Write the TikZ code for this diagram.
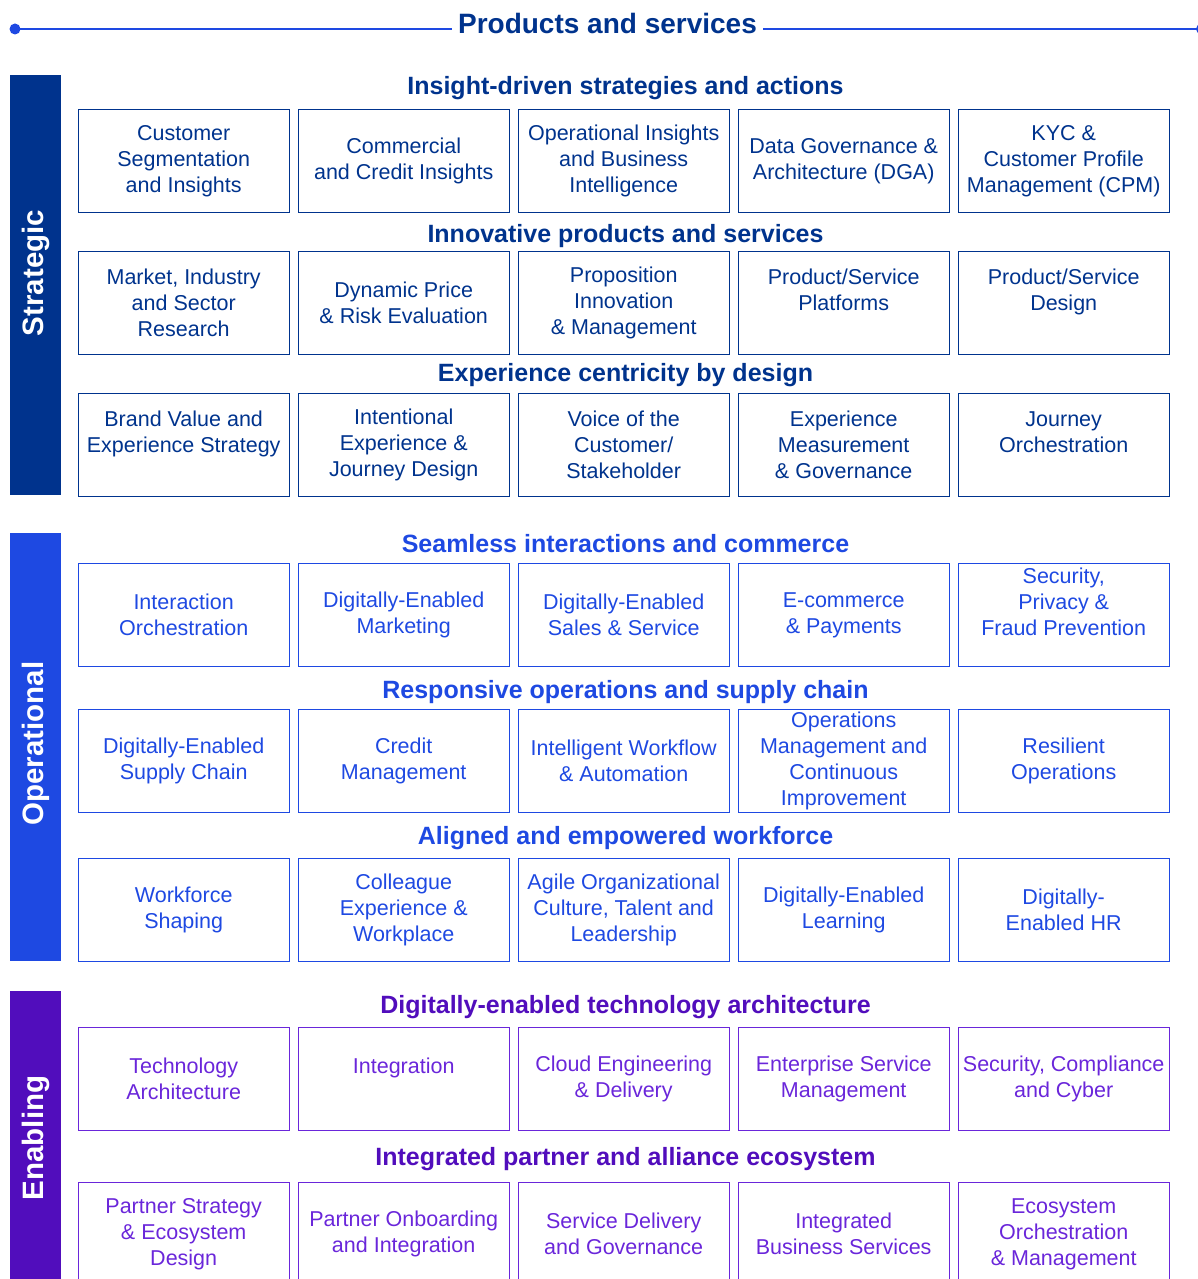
\documentclass[tikz,border=0pt]{standalone}
\usepackage{fontspec}
\setmainfont{Liberation Sans}
\usepackage{xcolor}
\usepackage{tikz}
\usetikzlibrary{positioning}

\definecolor{kdark}{HTML}{00338D}
\definecolor{kblue}{HTML}{1E49E2}
\definecolor{kpurple}{HTML}{510DBC}
\definecolor{kviolet}{HTML}{6A26DA}

\begin{document}
\begin{tikzpicture}[x=1pt, y=-1pt, font=\fontsize{21.5}{26}\selectfont]
		\tikzstyle{box} = [rectangle, line width=1.4pt, minimum width=211pt, minimum height=102.5pt, align=center, inner sep=0pt]
		\tikzstyle{strat} = [box, draw=kdark, text=kdark]
		\tikzstyle{oper} = [box, draw=kblue, text=kblue]
		\tikzstyle{enab} = [box, draw=kviolet, text=kviolet]
		\tikzstyle{head} = [anchor=base, font=\fontsize{25}{30}\selectfont\bfseries]
		\tikzstyle{side} = [anchor=base, rotate=90, text=white, font=\fontsize{29.5}{32}\selectfont\bfseries]
		
		\useasboundingbox (0, 0) rectangle (1197, 1279);
		
		% title with its rule
		\node[anchor=base, text=kdark, inner xsep=6pt, font=\fontsize{28}{32}\selectfont\bfseries] at (607.5, 34) (title) {Products and services};
		\coordinate (dl) at (15, 29);
		\coordinate (dr) at (1201, 29);
		\fill[kblue] (dl) circle (5.5pt);
		\fill[kblue] (dr) circle (5pt);
		\draw[kblue, line width=1.5pt] (dl) -- (title.west |- dl);
		\draw[kblue, line width=1.5pt] (title.east |- dr) -- (dr);
		
		% side bars
		\fill[kdark] (10, 75) rectangle (61, 495);
		\fill[kblue] (10, 533) rectangle (61, 961);
		\fill[kpurple] (10, 991) rectangle (61, 1290);
		\node[side] at (43.5, 273) (strategic) {Strategic};
		\node[side] at (43.5, 743.5) (operational) {Operational};
		\node[side] at (43.5, 1138) (enabling) {Enabling};
		
		% strategic
		\node[head, text=kdark] at (625.5, 95) (h1) {Insight-driven strategies and actions};
		\node[strat] at (183.7, 161) (b11) {Customer\\Segmentation\\and Insights};
		\node[strat] at (403.7, 161) (b12) {Commercial\\and Credit Insights};
		\node[strat] at (623.7, 161) (b13) {Operational Insights\\and Business\\Intelligence};
		\node[strat] at (843.7, 161) (b14) {Data Governance \&\\Architecture (DGA)};
		\node[strat] at (1063.7, 161) (b15) {KYC \&\\Customer Profile\\Management (CPM)};
		
		\node[head, text=kdark] at (625.5, 242) (h2) {Innovative products and services};
		\node[strat] at (183.7, 303) (b21) {Market, Industry\\and Sector\\Research};
		\node[strat] at (403.7, 303) (b22) {Dynamic Price\\\& Risk Evaluation};
		\node[strat] at (623.7, 303) (b23) {Proposition\\Innovation\\\& Management};
		\node[strat] at (843.7, 303) (b24) {Product/Service\\Platforms\\\mbox{}};
		\node[strat] at (1063.7, 303) (b25) {Product/Service\\Design\\\mbox{}};
		
		\node[head, text=kdark] at (625.5, 381) (h3) {Experience centricity by design};
		\node[strat] at (183.7, 445) (b31) {Brand Value and\\Experience Strategy\\\mbox{}};
		\node[strat] at (403.7, 445) (b32) {Intentional\\Experience \&\\Journey Design};
		\node[strat] at (623.7, 445) (b33) {Voice of the\\Customer/\\Stakeholder};
		\node[strat] at (843.7, 445) (b34) {Experience\\Measurement\\\& Governance};
		\node[strat] at (1063.7, 445) (b35) {Journey\\Orchestration\\\mbox{}};
		
		% operational
		\node[head, text=kblue] at (625.5, 552) (h4) {Seamless interactions and commerce};
		\node[oper] at (183.7, 615) (b41) {Interaction\\Orchestration};
		\node[oper] at (403.7, 615) (b42) {Digitally-Enabled\\Marketing};
		\node[oper] at (623.7, 615) (b43) {Digitally-Enabled\\Sales \& Service};
		\node[oper] at (843.7, 615) (b44) {E-commerce\\\& Payments};
		\node[oper] at (1063.7, 615) (b45) {Security,\\Privacy \&\\Fraud Prevention\\\mbox{}};
		
		\node[head, text=kblue] at (625.5, 698) (h5) {Responsive operations and supply chain};
		\node[oper] at (183.7, 761) (b51) {Digitally-Enabled\\Supply Chain};
		\node[oper] at (403.7, 761) (b52) {Credit\\Management};
		\node[oper] at (623.7, 761) (b53) {Intelligent Workflow\\\& Automation};
		\node[oper] at (843.7, 761) (b54) {Operations\\Management and\\Continuous\\Improvement};
		\node[oper] at (1063.7, 761) (b55) {Resilient\\Operations};
		
		\node[head, text=kblue] at (625.5, 844) (h6) {Aligned and empowered workforce};
		\node[oper] at (183.7, 910) (b61) {Workforce\\Shaping};
		\node[oper] at (403.7, 910) (b62) {Colleague\\Experience \&\\Workplace};
		\node[oper] at (623.7, 910) (b63) {Agile Organizational\\Culture, Talent and\\Leadership};
		\node[oper] at (843.7, 910) (b64) {Digitally-Enabled\\Learning};
		\node[oper] at (1063.7, 910) (b65) {Digitally-\\Enabled HR};
		
		% enabling
		\node[head, text=kpurple] at (625.5, 1013) (h7) {Digitally-enabled technology architecture};
		\node[enab] at (183.7, 1079) (b71) {Technology\\Architecture};
		\node[enab] at (403.7, 1079) (b72) {Integration\\\mbox{}};
		\node[enab] at (623.7, 1079) (b73) {Cloud Engineering\\\& Delivery};
		\node[enab] at (843.7, 1079) (b74) {Enterprise Service\\Management};
		\node[enab] at (1063.7, 1079) (b75) {Security, Compliance\\and Cyber};
		
		\node[head, text=kpurple] at (625.5, 1165) (h8) {Integrated partner and alliance ecosystem};
		\node[enab] at (183.7, 1234) (b81) {Partner Strategy\\\& Ecosystem\\Design};
		\node[enab] at (403.7, 1234) (b82) {Partner Onboarding\\and Integration};
		\node[enab] at (623.7, 1234) (b83) {Service Delivery\\and Governance};
		\node[enab] at (843.7, 1234) (b84) {Integrated\\Business Services};
		\node[enab] at (1063.7, 1234) (b85) {Ecosystem\\Orchestration\\\& Management};
	\end{tikzpicture}
\end{document}
